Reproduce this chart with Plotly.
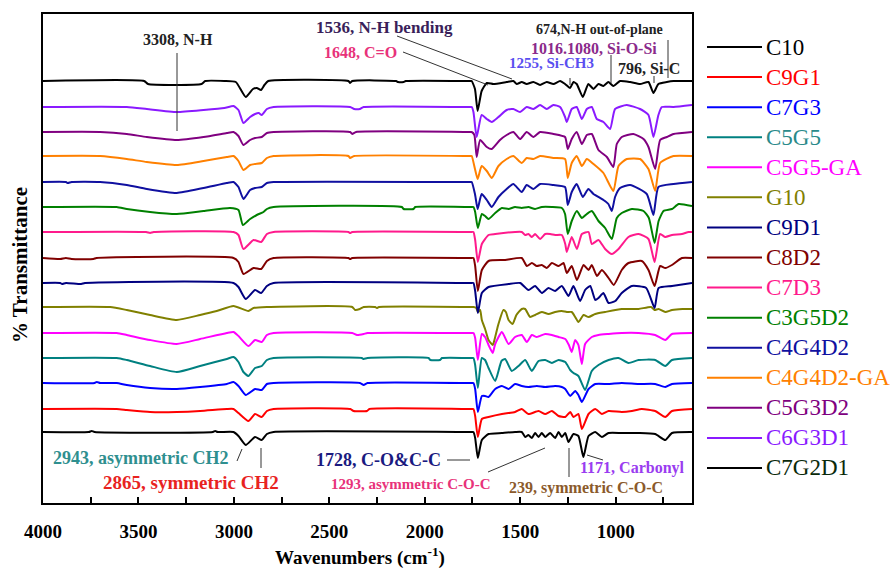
import plotly.graph_objects as go

SERIF = "Liberation Serif"

# ---------------- data ----------------
names = ["C10", "C9G1", "C7G3", "C5G5", "C5G5-GA", "G10", "C9D1", "C8D2",
         "C7D3", "C3G5D2", "C4G4D2", "C4G4D2-GA", "C5G3D2", "C6G3D1", "C7G2D1"]
line_colors = ["#000000", "#ff0000", "#0000ff", "#008080", "#ff00ff", "#808000",
               "#000080", "#800000", "#ff1a8c", "#008000", "#1010a0", "#ff8000",
               "#800080", "#8a1aff", "#000000"]
label_colors = ["#000000", "#ff0000", "#0000ff", "#2a8a8a", "#ff00ff", "#808000",
                "#000080", "#800000", "#ff1a8c", "#008000", "#1010a0", "#ff8000",
                "#800080", "#8a1aff", "#0a2a0a"]
# vertical offset (baseline) of every stacked spectrum, arbitrary transmittance units
baselines = [71, 94, 120, 145, 170, 196, 220, 245, 271, 296, 321, 347, 371, 396, 422]

# spectra: [wavenumber (cm-1), absorption depth below baseline]
C10 = [(4000,0),(3760,0),(3745,-1),(3730,0),(3110,0),(3098,-1),(3085,0),(3002,0),(2976,4),(2938,13),(2889,5),(2854,8),(2827,2),(2792,0),(1760,0),(1745,0),(1736,6),(1722,26),(1701,8),(1666,2),(1596,1),(1527,0),(1492,0),(1474,5),(1457,3),(1439,6),(1422,1),(1404,5),(1387,1),(1369,5),(1343,1),(1317,6),(1299,0),(1282,5),(1264,1),(1247,10),(1221,2),(1195,4),(1169,25),(1142,4),(1107,0),(1072,5),(1037,1),(968,1),(880,1),(793,2),(740,8),(705,1),(600,0)]
C9G1 = [(4000,0),(3614,0),(3561,1),(3439,3),(3299,3),(3177,2),(3037,0),(3002,0),(2976,4),(2924,12),(2889,5),(2854,8),(2827,2),(2792,0),(2390,0),(2373,2),(2303,2),(2290,0),(1760,0),(1745,0),(1736,7),(1722,28),(1701,10),(1666,8),(1596,5),(1527,3),(1492,0),(1457,5),(1404,2),(1369,5),(1334,2),(1299,7),(1264,8),(1238,3),(1221,8),(1195,5),(1177,20),(1142,5),(1107,0),(1072,5),(1037,2),(968,3),(915,2),(863,0),(793,2),(740,8),(705,2),(600,0)]
C7G3 = [(4000,0),(3730,0),(3718,-1),(3700,0),(3614,0),(3561,2),(3439,5),(3299,6),(3177,4),(3037,1),(3002,-1),(2976,3),(2938,12),(2889,6),(2854,7),(2827,1),(2792,0),(2340,0),(2320,2),(2300,0),(1760,0),(1745,0),(1736,6),(1722,29),(1701,13),(1684,13),(1666,14),(1631,6),(1596,3),(1561,6),(1527,1),(1492,3),(1457,4),(1413,3),(1369,4),(1317,3),(1282,4),(1264,6),(1238,13),(1212,8),(1195,12),(1177,19),(1142,6),(1107,1),(1037,1),(968,0),(880,1),(793,1),(740,4),(705,1),(600,0)]
C5G5 = [(4000,0),(3614,0),(3561,2),(3439,8),(3299,14),(3177,8),(3037,1),(3002,-1),(2976,4),(2950,14),(2924,18),(2889,10),(2854,8),(2827,2),(2792,0),(2330,0),(2320,1),(2300,0),(1980,0),(1971,2),(1920,2),(1910,0),(1760,0),(1745,0),(1736,7),(1722,30),(1701,0),(1684,2),(1666,10),(1631,23),(1598,3),(1579,1),(1544,13),(1509,8),(1474,2),(1439,13),(1404,3),(1369,2),(1334,5),(1299,2),(1264,4),(1238,12),(1221,15),(1195,18),(1160,32),(1125,13),(1090,7),(1037,2),(985,0),(933,5),(880,2),(793,2),(740,8),(705,2),(600,0)]
C5G5_GA = [(4000,0),(3614,0),(3561,2),(3439,7),(3299,11),(3177,6),(3037,0),(3002,-1),(2976,3),(2924,13),(2889,7),(2854,9),(2827,2),(2792,0),(2380,0),(2355,2),(2320,1),(2300,0),(1760,0),(1745,0),(1736,5),(1722,27),(1701,1),(1684,4),(1666,12),(1644,20),(1631,11),(1596,-1),(1561,11),(1527,4),(1492,2),(1465,9),(1439,2),(1413,4),(1369,1),(1334,2),(1299,4),(1264,6),(1245,12),(1230,19),(1212,7),(1195,12),(1177,31),(1160,11),(1125,4),(1090,2),(1037,1),(968,0),(880,0),(793,2),(740,7),(705,1),(600,0)]
G10 = [(4000,0),(3648,0),(3561,3),(3439,8),(3299,13),(3177,8),(3090,4),(3002,-1),(2924,4),(2897,1),(2827,0),(2380,0),(2365,3),(2340,2),(2320,0),(2260,0),(2251,1),(2240,0),(1760,0),(1745,0),(1730,1),(1722,5),(1710,3),(1701,13),(1684,22),(1666,33),(1644,38),(1631,30),(1614,17),(1588,3),(1575,5),(1561,13),(1540,17),(1520,8),(1492,2),(1474,2),(1448,10),(1422,8),(1387,5),(1352,7),(1317,5),(1282,4),(1256,5),(1230,5),(1212,10),(1195,15),(1168,8),(1142,10),(1107,7),(1055,5),(968,2),(880,2),(815,0),(796,3),(775,2),(740,5),(705,3),(650,2),(600,2)]
C9D1 = [(4000,0),(3910,0),(3900,1),(3880,0),(3800,1),(3780,0),(3002,0),(2976,4),(2938,16),(2889,7),(2857,10),(2827,3),(2792,0),(1760,0),(1745,0),(1736,8),(1722,30),(1701,10),(1666,4),(1561,1),(1500,0),(1457,7),(1422,3),(1387,10),(1352,5),(1317,8),(1282,3),(1247,13),(1221,3),(1186,18),(1160,7),(1133,3),(1107,17),(1090,15),(1064,10),(1037,20),(1002,18),(968,10),(915,3),(840,5),(796,25),(775,5),(705,3),(600,0)]
C8D2 = [(4000,0),(3910,1),(3880,0),(3850,1),(3736,1),(3720,0),(3002,0),(2976,4),(2950,16),(2897,10),(2857,11),(2827,3),(2792,0),(2400,0),(2391,1),(2380,0),(1760,0),(1745,0),(1736,8),(1722,33),(1701,12),(1666,3),(1579,2),(1492,0),(1465,8),(1439,5),(1413,8),(1387,7),(1361,10),(1334,5),(1299,8),(1273,5),(1256,15),(1230,8),(1203,22),(1168,7),(1142,12),(1125,7),(1098,18),(1072,12),(1037,20),(1010,27),(968,12),(933,5),(863,3),(828,12),(796,28),(767,8),(740,10),(705,7),(653,0),(600,0)]
C7D3 = [(4000,0),(3460,0),(3439,1),(3420,0),(3002,0),(2976,3),(2950,17),(2897,8),(2857,10),(2827,2),(2792,0),(2400,0),(2391,1),(2380,0),(1760,0),(1745,0),(1736,8),(1722,30),(1701,12),(1666,3),(1631,2),(1527,0),(1492,0),(1474,3),(1457,2),(1439,5),(1422,2),(1396,7),(1369,2),(1343,2),(1317,3),(1282,3),(1264,12),(1256,20),(1230,5),(1203,17),(1177,2),(1142,0),(1125,12),(1090,8),(1055,17),(1020,22),(985,17),(933,5),(880,2),(828,7),(796,30),(767,2),(740,5),(705,3),(653,2),(618,0),(600,0)]
C3G5D2 = [(4000,0),(3614,0),(3561,2),(3439,5),(3299,7),(3159,4),(3020,1),(2976,3),(2953,18),(2915,12),(2880,8),(2845,5),(2827,2),(2792,0),(2120,0),(2111,2),(2059,2),(2050,0),(1760,0),(1745,0),(1736,5),(1722,21),(1701,7),(1684,9),(1666,12),(1631,6),(1596,1),(1561,2),(1527,0),(1492,1),(1457,0),(1422,2),(1387,0),(1334,0),(1282,1),(1265,7),(1251,27),(1230,14),(1203,4),(1177,11),(1151,7),(1125,4),(1090,14),(1055,21),(1020,32),(994,11),(968,6),(915,2),(854,4),(826,11),(796,36),(775,14),(749,4),(705,2),(670,-3),(600,-1)]
C4G4D2 = [(4000,0),(3880,0),(3870,1),(3850,0),(3701,0),(3561,3),(3456,7),(3299,11),(3159,6),(3037,1),(3002,0),(2976,5),(2950,17),(2915,8),(2889,6),(2854,5),(2827,1),(2792,0),(1760,0),(1754,0),(1737,12),(1723,27),(1702,12),(1675,18),(1649,25),(1614,15),(1571,7),(1536,2),(1492,10),(1466,3),(1431,7),(1396,2),(1326,3),(1265,5),(1251,23),(1230,10),(1204,2),(1172,15),(1143,7),(1116,12),(1064,18),(1038,22),(1020,29),(1003,15),(977,6),(924,3),(837,12),(802,33),(776,5),(697,2),(600,0)]
C4G4D2_GA = [(4000,0),(3700,0),(3561,3),(3456,6),(3299,9),(3159,5),(3037,1),(3002,0),(2976,5),(2950,14),(2915,9),(2889,8),(2854,7),(2827,2),(2792,0),(2400,0),(2391,2),(2370,0),(1760,0),(1754,0),(1737,13),(1723,23),(1702,10),(1675,15),(1649,22),(1614,10),(1571,3),(1536,0),(1492,7),(1466,2),(1431,3),(1396,0),(1326,2),(1265,3),(1251,22),(1230,7),(1204,0),(1177,10),(1151,3),(1116,8),(1064,17),(1012,35),(985,10),(942,3),(872,3),(828,13),(793,35),(767,7),(697,0),(600,0)]
C5G3D2 = [(4000,0),(3700,0),(3561,2),(3456,5),(3299,8),(3159,5),(3037,1),(3002,0),(2976,4),(2950,13),(2915,8),(2889,6),(2854,5),(2827,1),(2792,0),(2391,0),(2380,2),(2360,0),(1760,0),(1754,0),(1740,3),(1728,25),(1710,8),(1675,15),(1649,17),(1606,8),(1571,3),(1536,0),(1501,7),(1466,0),(1431,5),(1396,0),(1326,2),(1265,5),(1251,17),(1230,7),(1204,0),(1177,12),(1151,3),(1125,2),(1090,18),(1046,25),(1012,35),(994,12),(968,5),(907,2),(854,7),(828,15),(793,37),(767,8),(732,5),(697,2),(600,0)]
C6G3D1 = [(4000,0),(3561,0),(3456,2),(3299,5),(3159,3),(3050,1),(3002,-1),(2976,3),(2950,16),(2915,10),(2889,7),(2870,6),(2854,8),(2827,2),(2792,0),(2391,0),(2370,2),(2340,2),(2320,0),(1760,0),(1754,0),(1745,5),(1728,30),(1702,8),(1675,12),(1649,15),(1614,10),(1571,3),(1536,2),(1501,5),(1466,0),(1431,2),(1396,-2),(1361,2),(1326,-2),(1291,0),(1265,10),(1256,15),(1230,2),(1204,0),(1177,12),(1151,2),(1125,0),(1099,12),(1064,15),(1029,22),(1003,2),(942,-2),(872,2),(828,8),(802,30),(776,8),(758,0),(697,0),(600,-2)]
C7G2D1 = [(4000,0),(3470,0),(3450,3),(3170,3),(3150,0),(3050,0),(2990,1),(2938,16),(2900,8),(2880,7),(2858,9),(2840,4),(2820,0),(2400,0),(2391,2),(2380,0),(2150,0),(2140,1),(2111,1),(2100,0),(1760,0),(1754,0),(1737,8),(1723,30),(1702,10),(1675,2),(1640,3),(1571,1),(1536,0),(1518,3),(1492,1),(1466,3),(1431,1),(1396,4),(1361,1),(1326,3),(1291,0),(1265,3),(1239,7),(1221,1),(1204,3),(1172,16),(1143,3),(1116,8),(1090,3),(1064,5),(1038,1),(1012,5),(977,0),(924,1),(872,3),(828,1),(802,12),(776,3),(732,1),(697,0),(600,0)]

spectra = [C10, C9G1, C7G3, C5G5, C5G5_GA, G10, C9D1, C8D2, C7D3,
           C3G5D2, C4G4D2, C4G4D2_GA, C5G3D2, C6G3D1, C7G2D1]

x_tick_vals = [4000, 3500, 3000, 2500, 2000, 1500, 1000]

# ---------------- figure ----------------
fig = go.Figure()
for name, col, base, spec in zip(names, line_colors, baselines, spectra):
    fig.add_trace(go.Scatter(
        x=[p[0] for p in spec],
        y=[base - p[1] for p in spec],
        mode="lines", name=name, showlegend=False,
        line=dict(color=col, width=2, shape="spline", smoothing=0.5),
    ))

# plot area in pixels: left 43, right 692, top 14, bottom 503
L, R, T, B = 43, 692, 14, 503
def P(px):
    return (px - L) / (R - L)
def Q(py):
    return (B - py) / (B - T)

annotations = []
shapes = []

def label(text, px, py, color, size, xanchor="left", bold=True, angle=0):
    annotations.append(dict(
        x=P(px), y=Q(py), xref="paper", yref="paper",
        text=f"<b>{text}</b>" if bold else text,
        showarrow=False, xanchor=xanchor, yanchor="middle", textangle=angle,
        borderpad=0,
        font=dict(family=SERIF, size=size, color=color)))

def seg(x0, y0, x1, y1, color="#333333", width=1):
    shapes.append(dict(type="line", xref="paper", yref="paper",
                       x0=P(x0), y0=Q(y0), x1=P(x1), y1=Q(y1),
                       line=dict(color=color, width=width)))

# peak annotations (top)
label("3308, N-H", 178, 40, "#222222", 16, xanchor="center")
seg(177, 53, 177, 131)
label("1536, N-H bending", 315, 28, "#3a1f5a", 17)
seg(397, 36, 512, 79)
label("1648, C=O", 323, 52, "#e8327a", 16)
seg(403, 52, 488, 85)
label("674,N-H out-of-plane", 535, 29, "#222222", 14)
seg(668, 40, 668, 78)
label("1016.1080, Si-O-Si", 530, 48, "#8b2a8b", 16)
seg(611, 55, 611, 83)
label("1255, Si-CH3", 508, 63, "#5a4ff0", 15)
seg(570, 78, 570, 85)
label("796, Si-C", 617, 68, "#222222", 16)
seg(654, 76, 654, 83)

# peak annotations (bottom)
label("2943, asymmetric CH2", 52, 458, "#2f8f8f", 18)
seg(237, 461, 242, 449)
label("2865, symmetric CH2", 102, 482, "#e8231f", 19)
seg(261, 448, 261, 468)
label("1728, C-O&amp;C-C", 315, 460, "#1a1a80", 18)
seg(447, 460, 470, 460)
label("1293, asymmetric C-O-C", 330, 484, "#e8327a", 15)
seg(488, 472, 545, 448)
label("1171, Carbonyl", 579, 468, "#9a3cf0", 16)
seg(587, 455, 603, 460)
label("239, symmetric C-O-C", 508, 488, "#8b5a2b", 16)
seg(569, 448, 569, 477)

# axis titles
label("% Transmittance", 20, 265, "#000000", 21, xanchor="center", angle=-90)
label("Wavenumbers (cm<sup>-1</sup>)", 360, 556, "#000000", 19, xanchor="center")

# legend (drawn by hand, right side)
for i, (name, col, tcol) in enumerate(zip(names, line_colors, label_colors)):
    py = 47 + 30.07 * i
    seg(707, py, 762, py, color=col, width=2)
    label(name, 765, py, tcol, 23, bold=False)

fig.update_layout(
    width=895, height=571,
    margin=dict(l=L, r=895 - R, t=T, b=571 - B, autoexpand=False),
    paper_bgcolor="white", plot_bgcolor="white",
    showlegend=False,
    annotations=annotations, shapes=shapes,
    font=dict(family=SERIF, color="#000000"),
)
fig.update_xaxes(
    range=[4000, 600], tickvals=x_tick_vals,
    showline=True, linecolor="black", linewidth=2, mirror=True,
    ticks="inside", ticklen=6, tickwidth=2, tickcolor="black",
    minor=dict(dtick=250, tick0=0, ticks="inside", ticklen=6, tickwidth=2, tickcolor="black"),
    tickfont=dict(family=SERIF, size=19, color="black", weight="bold"),
    ticklabelstandoff=10,
    showgrid=False, zeroline=False, automargin=False,
)
fig.update_yaxes(
    range=[0, 489], showticklabels=False, ticks="",
    showline=True, linecolor="black", linewidth=2, mirror=True,
    showgrid=False, zeroline=False, automargin=False,
)

fig.write_html("out.html", config={"displayModeBar": False},
               post_script="document.body.style.margin='0';")
